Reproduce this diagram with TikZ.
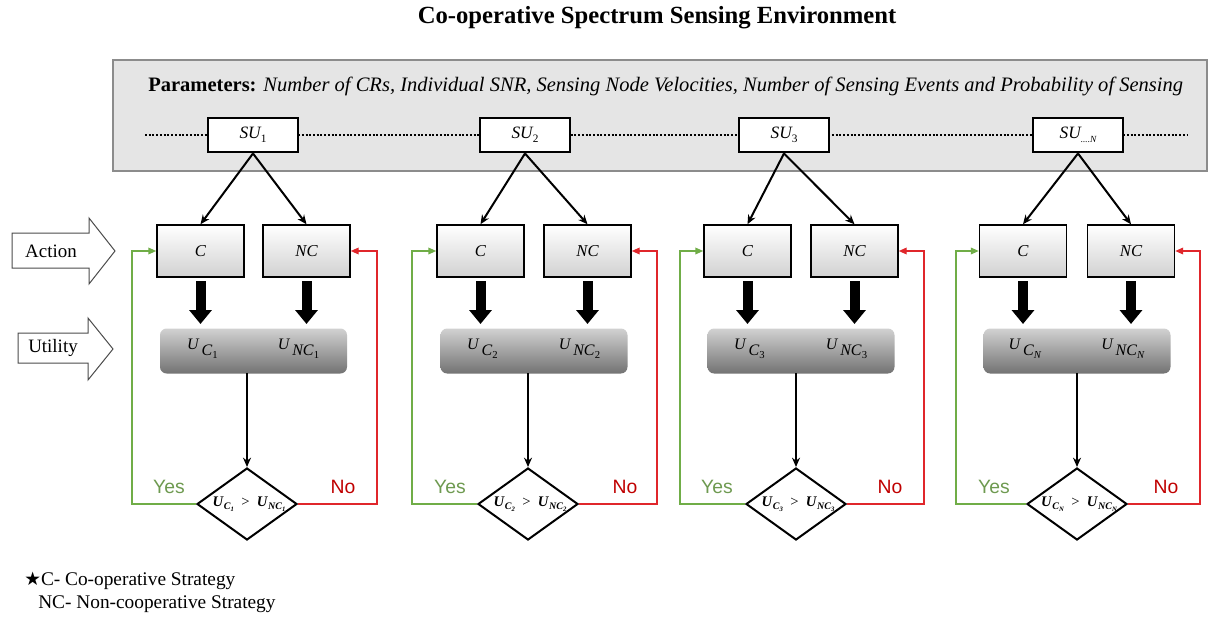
\documentclass[tikz,border=0pt]{standalone}
\usepackage{fontspec}
\setmainfont{Liberation Serif}
\newfontfamily\arialf{Liberation Sans}
\newfontfamily\symf{DejaVu Sans}
\usetikzlibrary{arrows.meta,shapes.geometric}
\definecolor{yesgreen}{HTML}{70AD47}
\definecolor{nored}{HTML}{E0262B}
\definecolor{yestext}{HTML}{6E9A50}
\definecolor{notext}{HTML}{C00000}
\def\lsbx#1#2{\raisebox{-0.45ex}{\fontsize{#1}{#1}\selectfont #2}}
\def\utl#1#2{\textit{U}\kern1.5pt\raisebox{-0.75ex}{\textit{#1}\lsbx{8}{#2}}}
\def\dcs#1{{\bfseries\itshape U\kern0.5pt\lsbx{7.5}{C\lsbx{5}{#1}}\enspace\textnormal{\upshape >}\enspace U\kern0.5pt\lsbx{7.5}{NC\lsbx{5}{#1}}}}
\tikzset{
  envbox/.style={draw=black!45, line width=1.5pt, fill=black!10},
  dotl/.style={line width=1.6pt, dash pattern=on 1.5pt off 1.3pt},
  subox/.style={draw=black, line width=2.2pt, fill=white, minimum width=67.5pt, minimum height=25.5pt, inner sep=0pt, font=\fontsize{13}{13}\selectfont\itshape},
  actbox/.style={draw=black, line width=1.1pt, top color=white, bottom color=black!18, minimum width=65.25pt, minimum height=39pt, inner sep=0pt, font=\fontsize{12.5}{12.5}\selectfont\itshape},
  utilbox/.style={rounded corners=5pt, top color=black!18, bottom color=black!55, minimum width=140.25pt, minimum height=33.75pt, inner sep=0pt},
  ulab/.style={inner sep=0pt, font=\fontsize{12}{12}\selectfont},
  decis/.style={diamond, draw=black, line width=1.5pt, fill=white, minimum width=75pt, minimum height=54pt, inner sep=0pt, aspect=1.39},
  dtext/.style={inner sep=0pt, font=\fontsize{11}{11}\selectfont},
  slim/.style={-{Stealth[length=7pt,width=6pt]}, line width=1.5pt},
  fatarr/.style={line width=7.5pt, -{Triangle[length=10.5pt,width=16.5pt]}},
  yesl/.style={draw=yesgreen, line width=1.1pt, -{Triangle[length=6pt,width=5pt]}},
  nol/.style={draw=nored, line width=1.1pt, -{Triangle[length=6pt,width=5pt]}},
  yeslab/.style={inner sep=0pt, text=yestext, font=\arialf\fontsize{14.5}{14.5}\selectfont},
  nolab/.style={inner sep=0pt, text=notext, font=\arialf\fontsize{14.5}{14.5}\selectfont},
  outarr/.style={draw=black!70, line width=0.75pt, fill=white},
  sidelab/.style={inner sep=0pt, font=\fontsize{14.2}{14.2}\selectfont},
  leg/.style={inner sep=0pt, anchor=west, font=\fontsize{14.5}{14.5}\selectfont},
}
\begin{document}
\begin{tikzpicture}[x=0.75pt,y=-0.75pt]
\useasboundingbox (0,0) rectangle (1210,617);
\fill[white] (0,0) rectangle (1210,617);

% title
\node[inner sep=0pt, font=\fontsize{18.5}{18.5}\selectfont\bfseries] (ttl) at (657,18) {Co-operative Spectrum Sensing Environment};

% environment box
\draw[envbox] (113,60) rectangle (1207,171);
\node[inner sep=0pt, anchor=west, font=\fontsize{15.4}{15.4}\selectfont] (par) at (148,86)
  {\textbf{Parameters:} \textit{Number of CRs, Individual SNR, Sensing Node Velocities, Number of Sensing Events and Probability of Sensing}};
\coordinate (dl) at (145,135);
\coordinate (dr) at (1188,135);
\draw[dotl] (dl) -- (dr);

% side arrows
\draw[outarr] (12,233) -- (89,233) -- (89,218) -- (115,251) -- (89,284) -- (89,268) -- (12,268) -- cycle;
\node[sidelab] (act) at (51,251) {Action};
\draw[outarr] (18,333) -- (88,333) -- (88,318) -- (113,349) -- (88,380) -- (88,363) -- (18,363) -- cycle;
\node[sidelab] (utl) at (53,348) {Utility};

% ---------- group 1
\node[subox] (su1) at (253,135) {SU\lsbx{8.5}{\upshape 1}};
\node[actbox] (c1) at (200.5,251) {C};
\node[actbox] (nc1) at (306.5,251) {NC};
\node[utilbox] (u1) at (253.5,351) {};
\node[ulab] (uc1) at (202.5,349) {\utl{C}{1}};
\node[ulab] (unc1) at (298.5,349) {\utl{NC}{1}};
\node[decis] (d1) at (247,504) {};
\node[dtext] (dt1) at (249,504) {\dcs{1}};
\node[yeslab] (yes1) at (169,487) {Yes};
\node[nolab] (no1) at (343,487) {No};
\coordinate (fc1) at (200.5,328);
\coordinate (fn1) at (306.5,328);
\coordinate (ub1) at (247,373);
\coordinate (gb1) at (132,504);
\coordinate (gl1) at (132,251);
\coordinate (rb1) at (377,504);
\coordinate (rl1) at (377,251);
\draw[slim] (su1.south) -- (c1.north);
\draw[slim] (su1.south) -- (nc1.north);
\draw[fatarr, shorten <=2.5pt, shorten >=3pt] (c1.south) -- (fc1);
\draw[fatarr, shorten <=2.5pt, shorten >=3pt] (nc1.south) -- (fn1);
\draw[slim] (ub1) -- (d1.north);
\draw[yesl] (d1.west) -- (gb1) -- (gl1) -- (c1.west);
\draw[nol] (d1.east) -- (rb1) -- (rl1) -- (nc1.east);

% ---------- group 2
\node[subox] (su2) at (525,135) {SU\lsbx{8.5}{\upshape 2}};
\node[actbox] (c2) at (480.5,251) {C};
\node[actbox] (nc2) at (587.5,251) {NC};
\node[utilbox] (u2) at (534,351) {};
\node[ulab] (uc2) at (482.5,349) {\utl{C}{2}};
\node[ulab] (unc2) at (579.5,349) {\utl{NC}{2}};
\node[decis] (d2) at (528,504) {};
\node[dtext] (dt2) at (530,504) {\dcs{2}};
\node[yeslab] (yes2) at (450,487) {Yes};
\node[nolab] (no2) at (625,487) {No};
\coordinate (fc2) at (480.5,328);
\coordinate (fn2) at (587.5,328);
\coordinate (ub2) at (528,373);
\coordinate (gb2) at (412,504);
\coordinate (gl2) at (412,251);
\coordinate (rb2) at (657,504);
\coordinate (rl2) at (657,251);
\draw[slim] (su2.south) -- (c2.north);
\draw[slim] (su2.south) -- (nc2.north);
\draw[fatarr, shorten <=2.5pt, shorten >=3pt] (c2.south) -- (fc2);
\draw[fatarr, shorten <=2.5pt, shorten >=3pt] (nc2.south) -- (fn2);
\draw[slim] (ub2) -- (d2.north);
\draw[yesl] (d2.west) -- (gb2) -- (gl2) -- (c2.west);
\draw[nol] (d2.east) -- (rb2) -- (rl2) -- (nc2.east);

% ---------- group 3
\node[subox] (su3) at (784,135) {SU\lsbx{8.5}{\upshape 3}};
\node[actbox] (c3) at (747.5,251) {C};
\node[actbox] (nc3) at (854.5,251) {NC};
\node[utilbox] (u3) at (801,351) {};
\node[ulab] (uc3) at (749.5,349) {\utl{C}{3}};
\node[ulab] (unc3) at (846.5,349) {\utl{NC}{3}};
\node[decis] (d3) at (796,504) {};
\node[dtext] (dt3) at (798,504) {\dcs{3}};
\node[yeslab] (yes3) at (717,487) {Yes};
\node[nolab] (no3) at (890,487) {No};
\coordinate (fc3) at (747.5,328);
\coordinate (fn3) at (854.5,328);
\coordinate (ub3) at (796,373);
\coordinate (gb3) at (680,504);
\coordinate (gl3) at (680,251);
\coordinate (rb3) at (924,504);
\coordinate (rl3) at (924,251);
\draw[slim] (su3.south) -- (c3.north);
\draw[slim] (su3.south) -- (nc3.north);
\draw[fatarr, shorten <=2.5pt, shorten >=3pt] (c3.south) -- (fc3);
\draw[fatarr, shorten <=2.5pt, shorten >=3pt] (nc3.south) -- (fn3);
\draw[slim] (ub3) -- (d3.north);
\draw[yesl] (d3.west) -- (gb3) -- (gl3) -- (c3.west);
\draw[nol] (d3.east) -- (rb3) -- (rl3) -- (nc3.east);

% ---------- group 4
\node[subox] (su4) at (1078,135) {SU\lsbx{7}{....N}};
\node[actbox] (c4) at (1023,251) {C};
\node[actbox] (nc4) at (1131,251) {NC};
\node[utilbox] (u4) at (1077,351) {};
\node[ulab] (uc4) at (1025,349) {\utl{C}{\textit{N}}};
\node[ulab] (unc4) at (1123,349) {\utl{NC}{\textit{N}}};
\node[decis] (d4) at (1077,504) {};
\node[dtext] (dt4) at (1079,504) {\dcs{N}};
\node[yeslab] (yes4) at (994,487) {Yes};
\node[nolab] (no4) at (1166,487) {No};
\coordinate (fc4) at (1023,328);
\coordinate (fn4) at (1131,328);
\coordinate (ub4) at (1077,373);
\coordinate (gb4) at (956,504);
\coordinate (gl4) at (956,251);
\coordinate (rb4) at (1200,504);
\coordinate (rl4) at (1200,251);
\draw[slim] (su4.south) -- (c4.north);
\draw[slim] (su4.south) -- (nc4.north);
\draw[fatarr, shorten <=2.5pt, shorten >=3pt] (c4.south) -- (fc4);
\draw[fatarr, shorten <=2.5pt, shorten >=3pt] (nc4.south) -- (fn4);
\draw[slim] (ub4) -- (d4.north);
\draw[yesl] (d4.west) -- (gb4) -- (gl4) -- (c4.west);
\draw[nol] (d4.east) -- (rb4) -- (rl4) -- (nc4.east);

% legend
\node[leg] (leg1) at (24,581) {{\symf\fontsize{14}{14}\selectfont ★}C- Co-operative Strategy};
\node[leg] (leg2) at (38,604) {NC- Non-cooperative Strategy};
\end{tikzpicture}
\end{document}
